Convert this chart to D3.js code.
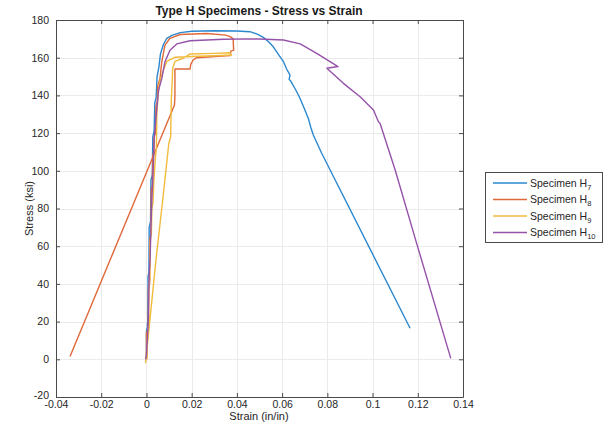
<!DOCTYPE html>
<html>
<head>
<meta charset="utf-8">
<script src="https://cdn.jsdelivr.net/npm/d3@7"></script>
<style>
  html, body { margin: 0; padding: 0; background: #ffffff; }
  svg { display: block; font-family: "Liberation Sans", Arial, sans-serif; }
</style>
</head>
<body>
<svg id="chart" width="605" height="432"></svg>
<script>
// Axis ticks
const xTicks = [-0.04, -0.02, 0, 0.02, 0.04, 0.06, 0.08, 0.1, 0.12, 0.14];
const xTickLabels = ["-0.04", "-0.02", "0", "0.02", "0.04", "0.06", "0.08", "0.1", "0.12", "0.14"];
const yTicks = [-20, 0, 20, 40, 60, 80, 100, 120, 140, 160, 180];
const yTickLabels = ["-20", "0", "20", "40", "60", "80", "100", "120", "140", "160", "180"];

// Series names (subscript part separate)
const seriesNames = ["7", "8", "9", "10"];

// Specimen H7: [strain, stress]
const h7 = [
  [0, 0], [0, 15], [0.0004, 17], [0.0004, 19], [0.0006, 20], [0.0007, 44], [0.0011, 46],
  [0.0012, 70], [0.0018, 73], [0.002, 95], [0.0026, 98], [0.0028, 118], [0.0034, 121],
  [0.0037, 136], [0.0043, 139], [0.0047, 150], [0.0055, 155], [0.0062, 162], [0.0075, 167],
  [0.009, 170.3], [0.0112, 171.8], [0.015, 173.3], [0.02, 174], [0.03, 174.3], [0.04, 174.2],
  [0.0458, 173.8], [0.049, 172.5], [0.0517, 170.8], [0.054, 168.5], [0.0561, 165.8],
  [0.0585, 161.5], [0.0606, 157.9], [0.062, 154], [0.0635, 150.8], [0.0631, 148.5],
  [0.0638, 147.6], [0.066, 143], [0.0679, 138.5], [0.07, 132.5], [0.0716, 127.8],
  [0.0727, 123], [0.0738, 119], [0.0775, 109.3], [0.1166, 16.5]
];

// Specimen H8
const h8 = [
  [0, 0], [0, 14], [0.0008, 16], [0.0009, 38], [0.0014, 40], [0.0015, 64], [0.002, 66],
  [0.0021, 90], [0.0026, 92], [0.0028, 108], [0.0032, 110], [0.0034, 118], [0.004, 120],
  [0.0042, 134], [0.0048, 137], [0.005, 145], [0.006, 149], [0.0068, 157.9], [0.0082, 166.7],
  [0.0104, 170.3], [0.0149, 172.3], [0.0267, 172.8], [0.035, 172], [0.037, 171.2],
  [0.0384, 170], [0.0384, 167.6], [0.0386, 164], [0.0373, 163.5], [0.0371, 161.2],
  [0.03, 160.6], [0.0222, 160], [0.0207, 158.8], [0.0196, 156.5], [0.0193, 154],
  [0.0126, 154], [0.0126, 140], [0.0124, 134.9], [-0.0338, 1.5]
];

// Specimen H9
const h9 = [
  [-0.0004, -2], [0.0042, 52.7], [0.0072, 84.5], [0.0099, 114.6], [0.0107, 118],
  [0.011, 138], [0.0112, 142], [0.0116, 154.4], [0.0126, 158], [0.0163, 159.7],
  [0.0193, 162], [0.03, 162.3], [0.037, 162.6], [0.0376, 161.4], [0.03, 161],
  [0.02, 160.6], [0.0125, 160.2], [0.009, 158], [0.008, 155], [0.0066, 150],
  [0.0056, 146], [0.005, 138], [0.0046, 130], [0.0044, 112], [0.0039, 106], [0.0033, 95],
  [0.0029, 83], [0.0024, 80], [0.0022, 67], [0.0016, 62], [0.0015, 42], [0.0011, 40],
  [0.001, 18], [0.0005, 15], [0.0003, 0]
];

// Specimen H10
const h10 = [
  [-0.0004, 0], [0, 2], [0.0008, 20], [0.0012, 45], [0.0016, 52.7], [0.002, 70],
  [0.0024, 85], [0.0028, 95], [0.0032, 108], [0.0035, 118], [0.0045, 132], [0.0054, 143],
  [0.0068, 149], [0.0082, 157.9], [0.0104, 164], [0.0134, 167.3], [0.0193, 169],
  [0.034, 169.8], [0.0458, 170], [0.05, 169.9], [0.0606, 169.4], [0.068, 167.3],
  [0.0753, 162.3], [0.0812, 157.9], [0.0847, 155.3], [0.0798, 154.4], [0.0871, 146.4],
  [0.0945, 139.3], [0.1004, 132.3], [0.1026, 126], [0.1033, 125.2], [0.11, 100.4],
  [0.1195, 61.5], [0.1346, 0.5]
];

const seriesData = [h7, h8, h9, h10];
const colors = ["#2b88cf", "#e0683a", "#f1bb3c", "#9552a9"];

const svg = d3.select("#chart");
const plotL = 56, plotR = 463, plotT = 20, plotB = 397;

const x = d3.scaleLinear().domain([-0.04, 0.14]).range([plotL, plotR]);
const y = d3.scaleLinear().domain([-20, 180]).range([plotB, plotT]);

// grid
const grid = svg.append("g");
grid.selectAll("line.gx").data(xTicks).join("line")
  .attr("x1", d => Math.round(x(d)) + 0.5).attr("x2", d => Math.round(x(d)) + 0.5)
  .attr("y1", plotT).attr("y2", plotB)
  .attr("stroke", "#ebebeb").attr("stroke-width", 1);
grid.selectAll("line.gy").data(yTicks).join("line")
  .attr("y1", d => Math.round(y(d)) + 0.5).attr("y2", d => Math.round(y(d)) + 0.5)
  .attr("x1", plotL).attr("x2", plotR)
  .attr("stroke", "#ebebeb").attr("stroke-width", 1);

// data lines
svg.append("clipPath").attr("id", "plotClip")
  .append("rect").attr("x", plotL).attr("y", plotT)
  .attr("width", plotR - plotL).attr("height", plotB - plotT);

const line = d3.line().x(d => x(d[0])).y(d => y(d[1]));
svg.append("g").attr("clip-path", "url(#plotClip)")
  .selectAll("path").data(seriesData).join("path")
  .attr("d", line)
  .attr("fill", "none")
  .attr("stroke", (d, i) => colors[i])
  .attr("stroke-width", 1.4)
  .attr("stroke-linejoin", "round");

// axes (box with inward ticks)
const axisColor = "#4a4a4a";
const tickFmt = (labels, ticks) => (d) => labels[ticks.indexOf(d)];

const xAxisB = d3.axisBottom(x).tickValues(xTicks).tickFormat(tickFmt(xTickLabels, xTicks))
  .tickSizeInner(-4).tickSizeOuter(0).tickPadding(4);
const yAxisL = d3.axisLeft(y).tickValues(yTicks).tickFormat(tickFmt(yTickLabels, yTicks))
  .tickSizeInner(-4).tickSizeOuter(0).tickPadding(7);
const xAxisT = d3.axisTop(x).tickValues(xTicks).tickFormat("")
  .tickSizeInner(-4).tickSizeOuter(0);
const yAxisR = d3.axisRight(y).tickValues(yTicks).tickFormat("")
  .tickSizeInner(-4).tickSizeOuter(0);

function styleAxis(g) {
  g.select(".domain").attr("stroke", axisColor);
  g.selectAll(".tick line").attr("stroke", axisColor);
  g.selectAll(".tick text").attr("fill", "#262626")
    .style("font-family", "'Liberation Sans', Arial, sans-serif").style("font-size", "10.5px");
}

svg.append("g").attr("transform", `translate(0,${plotB})`).call(xAxisB).call(styleAxis);
const yAxisG = svg.append("g").attr("transform", `translate(${plotL},0)`).call(yAxisL).call(styleAxis);
// lift the lowest y label slightly so it clears the x labels
yAxisG.selectAll(".tick text").filter(d => d === -20).attr("dy", "0.1em");
svg.append("g").attr("transform", `translate(0,${plotT})`).call(xAxisT).call(styleAxis);
svg.append("g").attr("transform", `translate(${plotR},0)`).call(yAxisR).call(styleAxis);

// title and axis labels
svg.append("text").attr("x", 259).attr("y", 15).attr("text-anchor", "middle")
  .attr("font-size", 12).attr("font-weight", "bold").attr("fill", "#1a1a1a")
  .text("Type H Specimens - Stress vs Strain");
svg.append("text").attr("x", 259).attr("y", 420).attr("text-anchor", "middle")
  .attr("font-size", 11).attr("fill", "#262626").text("Strain (in/in)");
svg.append("text").attr("transform", `translate(33,${(plotT + plotB) / 2}) rotate(-90)`)
  .attr("text-anchor", "middle").attr("font-size", 11).attr("fill", "#262626")
  .text("Stress (ksi)");

// legend
const lg = svg.append("g").attr("transform", "translate(485,172)");
lg.append("rect").attr("x", 0.5).attr("y", 0.5).attr("width", 117).attr("height", 70)
  .attr("fill", "#ffffff").attr("stroke", "#4a4a4a").attr("stroke-width", 1);
const rows = lg.selectAll("g.row").data(seriesNames).join("g")
  .attr("transform", (d, i) => `translate(0,${11 + i * 16.5})`);
rows.append("line").attr("x1", 8).attr("x2", 42).attr("y1", 0).attr("y2", 0)
  .attr("stroke", (d, i) => colors[i]).attr("stroke-width", 1.4);
const lt = rows.append("text").attr("x", 45).attr("y", 3.5)
  .attr("font-size", 10.5).attr("fill", "#262626");
lt.append("tspan").text("Specimen H");
lt.append("tspan").attr("dy", 3).attr("font-size", 7.5).text(d => d);
</script>
</body>
</html>
